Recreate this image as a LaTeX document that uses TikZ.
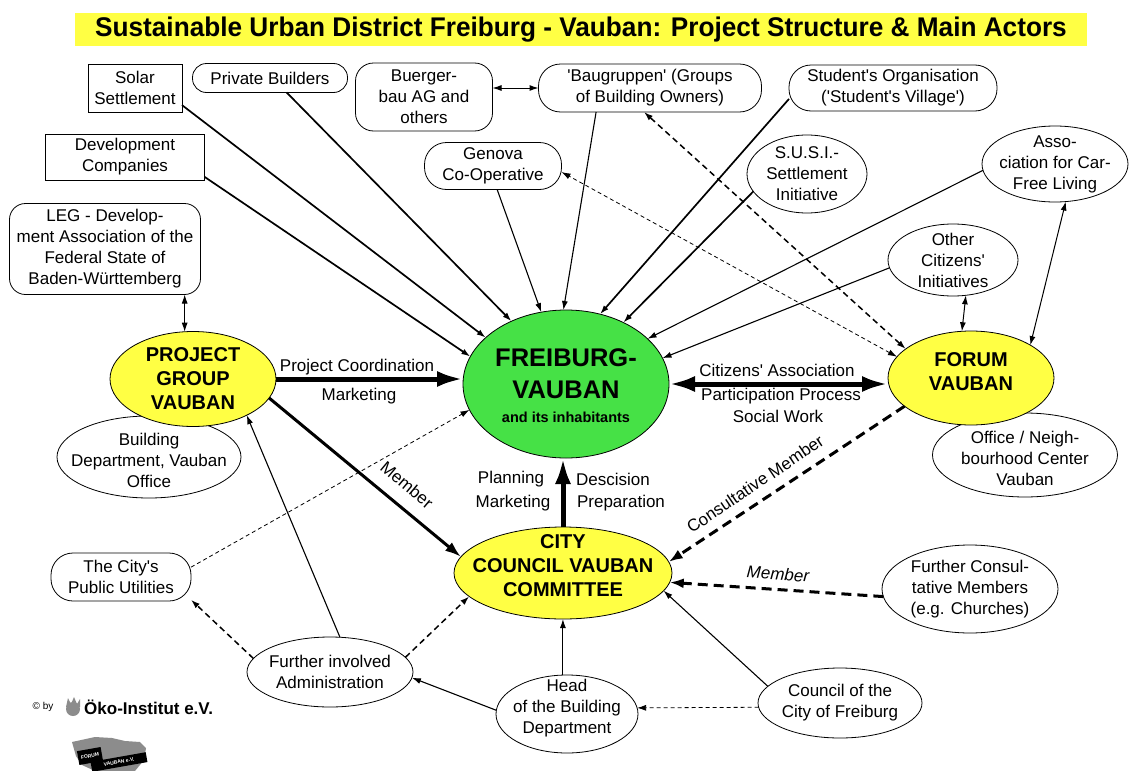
\documentclass[tikz,border=0pt]{standalone}
\usepackage{fontspec}
\setmainfont{Liberation Sans}
\usetikzlibrary{shapes.geometric,arrows.meta}
\definecolor{vyellow}{RGB}{255,255,68}
\definecolor{vgreen}{RGB}{70,225,70}
\definecolor{lgrey}{RGB}{140,140,140}
\newcommand{\aps}{\textquotesingle}
\begin{document}
\begin{tikzpicture}[x=1pt,y=-1pt,
  lbl/.style={font=\fontsize{17}{21}\selectfont,align=center},
  hdr/.style={font=\bfseries\fontsize{20}{24}\selectfont,align=center},
  box/.style={draw,fill=white,line width=0.8pt,outer sep=0pt,lbl},
  ell/.style={draw,ellipse,fill=white,line width=0.8pt,outer sep=0pt},
  yel/.style={ell,fill=vyellow},
  one/.style={-{Latex[length=9pt,width=6pt]}},
  two/.style={{Latex[length=9pt,width=6pt]}-{Latex[length=9pt,width=6pt]}},
  ln/.style={one,line width=1.1pt},
  lnw/.style={one,line width=1.7pt},
  fat/.style={line width=5pt,-{Latex[length=26pt,width=16pt]}},
  fatd/.style={line width=5pt,{Latex[length=26pt,width=16pt]}-{Latex[length=26pt,width=16pt]}},
  dsh/.style={line width=0.8pt,dash pattern=on 4pt off 3pt},
  dshm/.style={line width=1.5pt,dash pattern=on 6pt off 4pt},
  dshb/.style={line width=3pt,dash pattern=on 10pt off 6pt,-{Latex[length=14pt,width=10pt]}}]
\tikzstyle{every node}+=[inner sep=0pt]
\useasboundingbox (0,0) rectangle (1130,771);
\fill[white] (0,0) rectangle (1130,771);
\fill[vyellow] (75,13) rectangle (1087,46);
\node[font=\bfseries\fontsize{27}{30}\selectfont] (title) at (581,30) {\scalebox{0.97}[1]{Sustainable Urban District Freiburg - Vauban: Project Structure \& Main Actors}};
\node[box,minimum width=94pt,minimum height=48pt] (solar) at (135,88) {Solar\\Settlement};
\node[box,rounded corners=14pt,minimum width=155pt,minimum height=29pt] (pb) at (270,78) {Private Builders};
\node[box,rounded corners=18pt,minimum width=137pt,minimum height=68pt] (bu) at (424,97) {Buerger-\\bau AG and\\others};
\node[box,rounded corners=22pt,minimum width=223pt,minimum height=48pt] (bg) at (650,88) {\aps Baugruppen\aps\ (Groups\\of Building Owners)};
\node[box,rounded corners=22pt,minimum width=208pt,minimum height=46pt] (so) at (893,88) {Student\aps s Organisation\\(\aps Student\aps s Village\aps)};
\node[box,minimum width=159pt,minimum height=46pt] (dev) at (125,157) {Development\\Companies};
\node[box,rounded corners=16pt,minimum width=191pt,minimum height=91pt] (leg) at (105,249) {LEG - Develop-\\ment Association of the\\Federal State of\\Baden-Württemberg};
\node[box,rounded corners=22pt,minimum width=137pt,minimum height=47pt] (gen) at (493,166) {Genova\\Co-Operative};
\node[box,rounded corners=22pt,minimum width=140pt,minimum height=48pt] (util) at (121,577) {The City\aps s\\Public Utilities};
\node[ell,minimum width=120pt,minimum height=78pt,label={[lbl]center:{S.U.S.I.-\\Settlement\\Initiative}}] (susi) at (807,174) {};
\node[ell,minimum width=146pt,minimum height=76pt,label={[lbl]center:{Asso-\\ciation for Car-\\Free Living}}] (cf) at (1055,164) {};
\node[ell,minimum width=130pt,minimum height=72pt,label={[lbl]center:{Other\\Citizens\aps\\Initiatives}}] (oci) at (953,260) {};
\node[ell,minimum width=185pt,minimum height=84pt,label={[lbl,yshift=-3pt]center:{Office / Neigh-\\bourhood Center\\Vauban}}] (office) at (1025,455) {};
\node[yel,minimum width=166pt,minimum height=94pt,label={[hdr,yshift=6pt]center:{FORUM\\VAUBAN}}] (forum) at (971,378) {};
\node[ell,minimum width=184pt,minimum height=82pt,label={[lbl,yshift=-3pt]center:{Building\\Department, Vauban\\Office}}] (bd) at (149,457) {};
\node[yel,minimum width=166pt,minimum height=95pt,label={[hdr]center:{PROJECT\\GROUP\\VAUBAN}}] (pg) at (193,379) {};
\node[ell,fill=vgreen,minimum width=206pt,minimum height=148pt,label={[align=center,font=\bfseries\fontsize{25.5}{32}\selectfont,yshift=-2pt]center:{FREIBURG-\\VAUBAN\\[-8pt]{\fontsize{14.5}{17}\selectfont and its inhabitants}}}] (fv) at (566,384) {};
\node[yel,minimum width=218pt,minimum height=92pt,label={[hdr,yshift=7pt]center:{CITY\\COUNCIL VAUBAN\\COMMITTEE}}] (cc) at (563,573) {};
\node[ell,minimum width=176pt,minimum height=88pt,label={[lbl]center:{Further Consul-\\tative Members\\(e.g. Churches)}}] (fcm) at (970,589) {};
\node[ell,minimum width=164pt,minimum height=70pt,label={[lbl]center:{Council of the\\City of Freiburg}}] (coc) at (840,703) {};
\node[ell,minimum width=142pt,minimum height=78pt,label={[lbl,yshift=6pt]center:{Head\\of the Building\\Department}}] (head) at (567,714) {};
\node[ell,minimum width=166pt,minimum height=70pt,label={[lbl]center:{Further involved\\Administration}}] (adm) at (330,672) {};
\draw[lnw] (dev.-14) -- (fv.164);
\draw[lnw] (solar.-20) -- (fv.150);
\draw[lnw] (pb.-41) -- (fv.131);
\draw[ln] (gen.-80) -- (fv.109);
\draw[ln] (bg.-156) -- (fv.92);
\draw[lnw] (so.186) -- (fv.64);
\draw[lnw] (susi.198) -- (fv.47);
\draw[ln] (cf.185) -- (fv.29);
\draw[ln] (oci.187) -- (fv.15);
\draw[dsh,one] (util.8) -- (fv.195);
\draw[dshm,two] (forum.156) -- (bg.-104);
\draw[dsh,two] (forum.164) -- (gen.-5);
\draw[two,line width=1pt] (bu.east |- bg.west) -- (bg.west);
\draw[two,line width=1pt] (pg.100) -- (pg.100 |- leg.south);
\draw[two,line width=1pt] (oci.-70) -- (forum.101);
\draw[two,line width=1pt] (cf.-74) -- (forum.29);
\draw[fat] (pg.east) -- (pg.east -| fv.west);
\draw[fatd] (fv.east) -- (fv.east -| forum.west);
\draw[fat] (cc.north) -- (cc.north |- fv.south);
\draw[line width=3pt,-{Latex[length=16pt,width=11pt]}] (pg.-14) -- (cc.171);
\draw[dshb] (forum.203) -- (cc.6);
\draw[dshb] (fcm.185) -- (cc.-5);
\draw[dshm,one] (adm.11) -- (cc.194);
\draw[dshm,one] (adm.170) -- (util.-18);
\draw[ln] (adm.74) -- (pg.-34);
\draw[ln] (head.177) -- (adm.-4);
\draw[ln] (head.96) -- (head.96 |- cc.south);
\draw[ln] (coc.167) -- (cc.-10);
\draw[dsh,one] (coc.183) -- (head.5);
\node[lbl] (lpc) at (357,367) {Project Coordination};
\node[lbl] (lmk) at (359,396) {Marketing};
\node[lbl] (lca) at (777,370) {Citizens\aps\ Association};
\node[lbl] (lpp) at (781,396) {Participation Process};
\node[lbl] (lsw) at (778,416) {Social Work};
\node[lbl] (lpl) at (511,479) {Planning};
\node[lbl] (lmk2) at (513,503) {Marketing};
\node[lbl] (lde) at (613,479) {Descision};
\node[lbl] (lpr) at (621,503) {Preparation};
\node[lbl,rotate=-40] (lme) at (407,485) {Member};
\node[lbl,rotate=34] (lcm) at (755,484) {Consultative Member};
\node[lbl,font=\itshape\fontsize{17}{21}\selectfont,rotate=-4] (lme2) at (778,574) {Member};
\node[font=\fontsize{10}{12}\selectfont] (cby) at (43,707) {\textcopyright\ by};
\fill[lgrey] (73,709) circle (7);
\fill[lgrey] (66,707) -- (68,698) -- (71,704) -- (74,697) -- (77,704) -- (80,699) -- (80,707) -- cycle;
\node[font=\bfseries\fontsize{17}{20}\selectfont,anchor=west] (oeko) at (84,707) {Öko-Institut e.V.};
\fill[lgrey] (72,742) -- (95,737) -- (112,738) -- (125,741) -- (140,742) -- (146,748) -- (144,760) -- (135,771) -- (95,771) -- (82,765) -- (76,756) -- cycle;
\node[fill=black,text=white,font=\bfseries\fontsize{5}{6}\selectfont,minimum width=24pt,minimum height=14pt,rotate=10] (lfv) at (90,756) {FORUM};
\node[fill=black,text=white,font=\bfseries\fontsize{5}{6}\selectfont,minimum width=56pt,minimum height=10pt,rotate=10] (lve) at (119,762) {VAUBAN e.V.};
\end{tikzpicture}
\end{document}
